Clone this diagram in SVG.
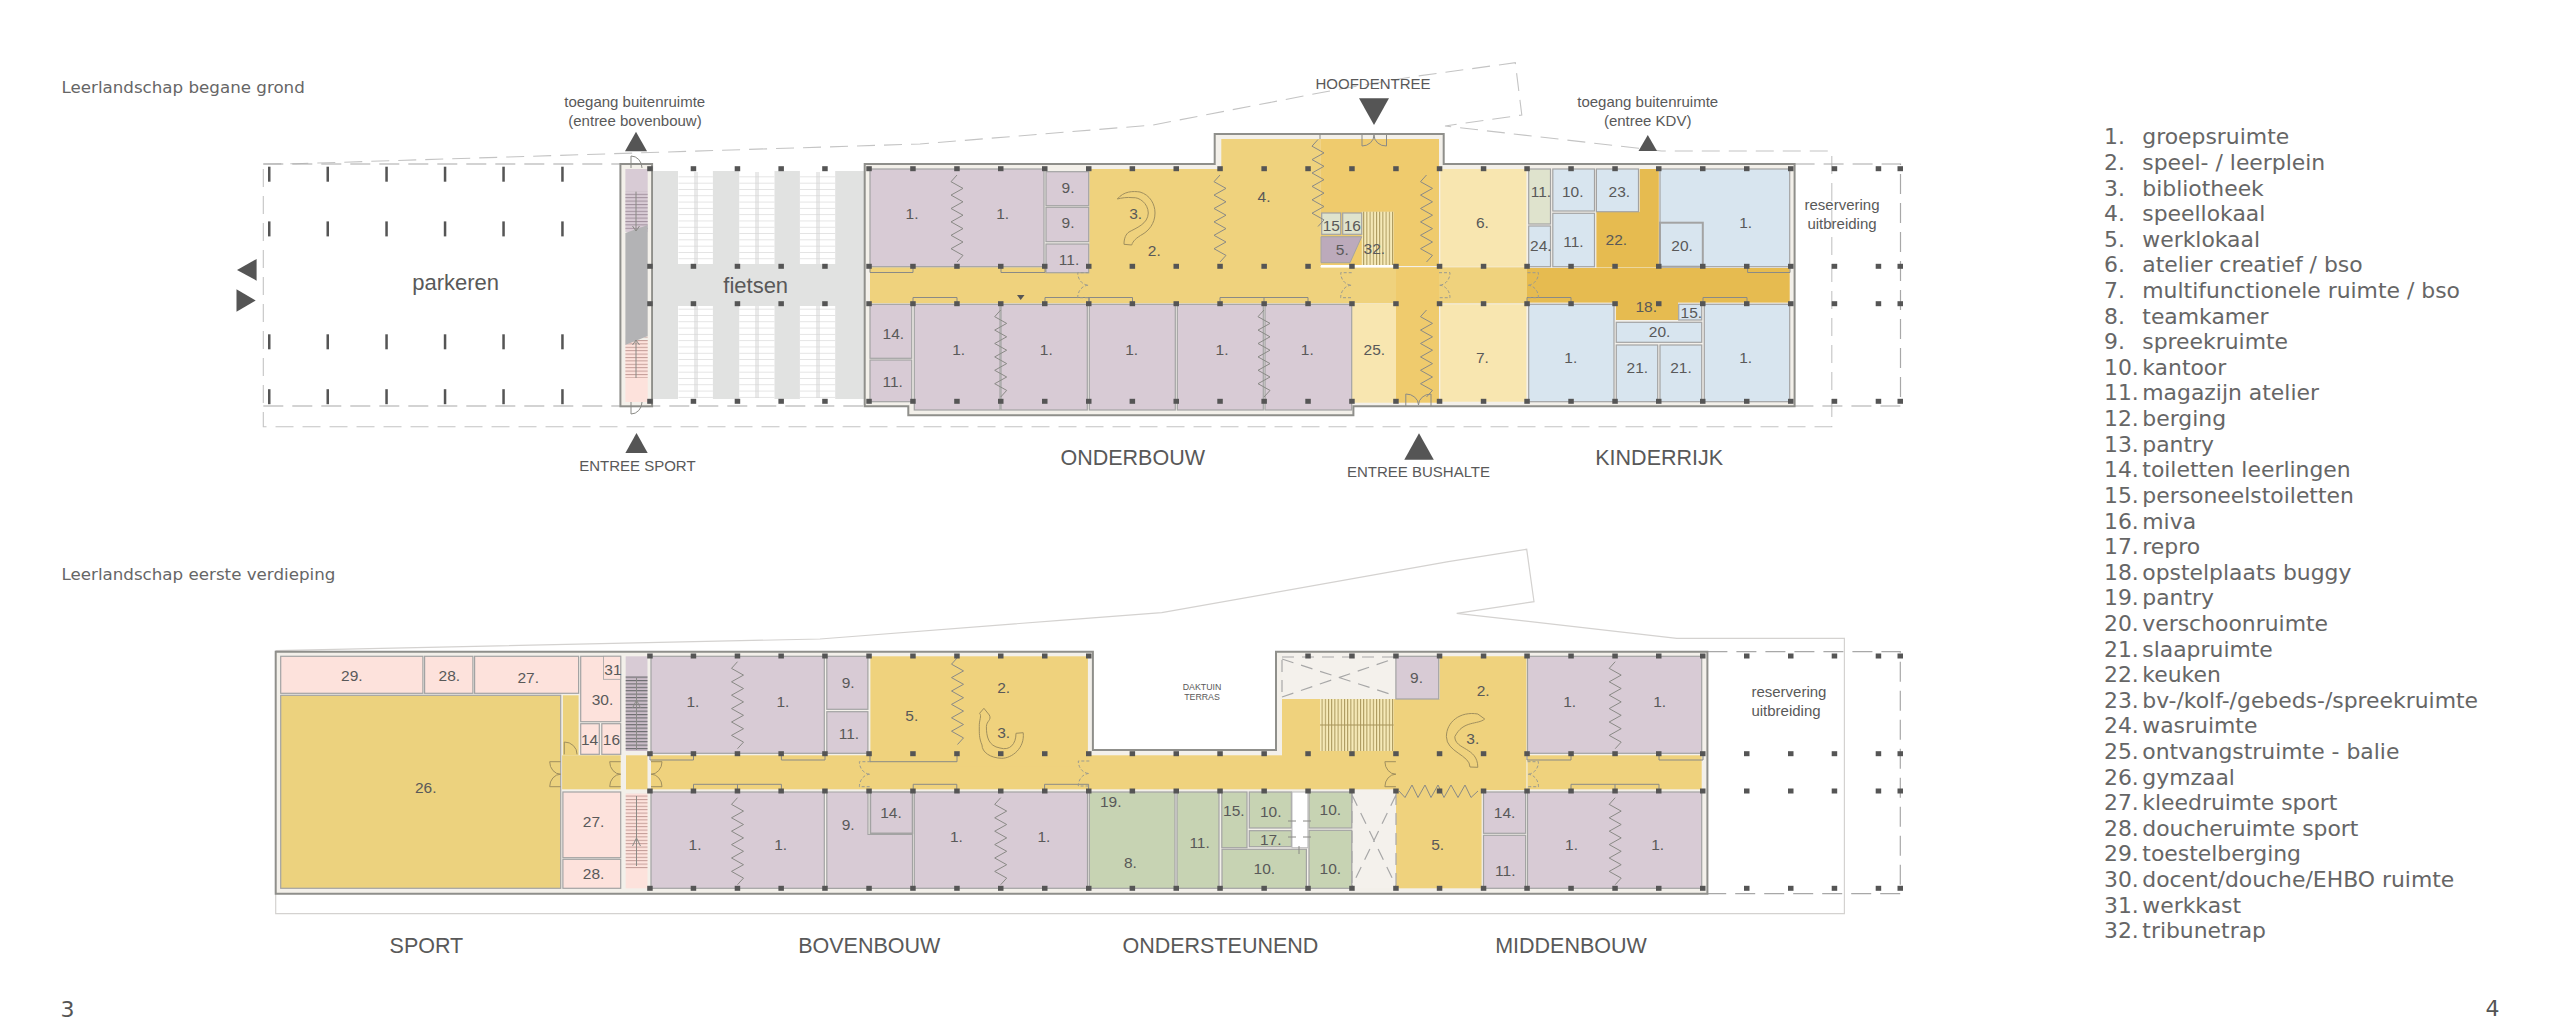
<svg xmlns="http://www.w3.org/2000/svg" xmlns:xlink="http://www.w3.org/1999/xlink" width="2560" height="1026" viewBox="0 0 2560 1026">
<style>
text{font-family:"Liberation Sans",Arial,sans-serif;fill:#595959}
.l{font-size:15.5px;text-anchor:middle}
.s{font-size:15px;text-anchor:middle}
.z{font-size:21.5px;text-anchor:middle}
.t{font-size:15px;text-anchor:middle}
.d{font-family:"DejaVu Sans",Verdana,sans-serif;font-size:16.7px;fill:#666}
.k{font-family:"DejaVu Sans",Verdana,sans-serif;font-size:21.9px;fill:#666}
.pu{fill:#d8cbd5}.ye{fill:#efd27d}.yd{fill:#e6bb50}.ym{fill:#efcb6d}.pa{fill:#f8e6b0}.bl{fill:#d8e5ef}.gp{fill:#dfe3cd}.gr{fill:#c7d3b3}.pk{fill:#fde2dc}.sp{fill:#ecd27e}.vo{fill:#f4f1ec}.fg{fill:#e1e2e1}
.r{stroke:#a3a3a3;stroke-width:1.2}
.w{fill:#f3f0ea;stroke:#8f8f8b;stroke-width:2}
.n{fill:none;stroke:#8a8a86;stroke-width:1}
.dn{fill:none;stroke:#9a9a90;stroke-width:1;stroke-dasharray:3 2}
.dash{fill:none;stroke:#c4c4c4;stroke-width:1.1;stroke-dasharray:18 9}
.dk{fill:none;stroke:#a8a8a8;stroke-width:1.2;stroke-dasharray:20 9}
.sol{fill:none;stroke:#d4d2d0;stroke-width:1.2}
.sp3{fill:none;stroke:#a08f5e;stroke-width:1}
.ar{fill:#555}
.c{fill:#555}
</style>
<defs>
<pattern id="hs" width="4" height="3.4" patternUnits="userSpaceOnUse"><rect width="4" height="1" fill="#a08f9c"/></pattern>
<pattern id="hp" width="4" height="3.4" patternUnits="userSpaceOnUse"><rect width="4" height="1" fill="#c29c97"/></pattern>
<pattern id="hd" width="4" height="3.4" patternUnits="userSpaceOnUse"><rect width="4" height="1.1" fill="#6a6a6d"/></pattern>
<pattern id="vs" width="3.2" height="4" patternUnits="userSpaceOnUse"><rect width="1" height="4" fill="#a8955a"/></pattern>
<pattern id="bk" width="34" height="6.3" patternUnits="userSpaceOnUse"><rect y="0" width="34" height="0.9" fill="#e2e2e2"/></pattern>
<path id="zz" d="M0 0L-6 6.7L6 13.4L-6 20.1L6 26.8L-6 33.5L6 40.2L-6 46.9L6 53.6L-6 60.3L6 67L-6 73.7L6 80.4L0 87" class="n"/>
<path id="dl" d="M0 0H-11A11 12.5 0 0 0 0 12.5A11 12.5 0 0 0 -11 25H0"/>
<g id="cr">
<rect x="647.2" y="-2.5" width="5.5" height="5"/><rect x="690.7" y="-2.5" width="5.5" height="5"/><rect x="734.7" y="-2.5" width="5.5" height="5"/><rect x="778.4" y="-2.5" width="5.5" height="5"/><rect x="822.2" y="-2.5" width="5.5" height="5"/><rect x="866.3" y="-2.5" width="5.5" height="5"/><rect x="910.2" y="-2.5" width="5.5" height="5"/><rect x="954.2" y="-2.5" width="5.5" height="5"/><rect x="998" y="-2.5" width="5.5" height="5"/><rect x="1042" y="-2.5" width="5.5" height="5"/><rect x="1086" y="-2.5" width="5.5" height="5"/><rect x="1129.6" y="-2.5" width="5.5" height="5"/><rect x="1173.5" y="-2.5" width="5.5" height="5"/><rect x="1217.3" y="-2.5" width="5.5" height="5"/><rect x="1261.4" y="-2.5" width="5.5" height="5"/><rect x="1305.3" y="-2.5" width="5.5" height="5"/><rect x="1349.2" y="-2.5" width="5.5" height="5"/><rect x="1393.2" y="-2.5" width="5.5" height="5"/><rect x="1436.8" y="-2.5" width="5.5" height="5"/><rect x="1480.8" y="-2.5" width="5.5" height="5"/><rect x="1524.3" y="-2.5" width="5.5" height="5"/><rect x="1568.3" y="-2.5" width="5.5" height="5"/><rect x="1612.3" y="-2.5" width="5.5" height="5"/><rect x="1656" y="-2.5" width="5.5" height="5"/><rect x="1700" y="-2.5" width="5.5" height="5"/><rect x="1744" y="-2.5" width="5.5" height="5"/><rect x="1788" y="-2.5" width="5.5" height="5"/><rect x="1831.7" y="-2.5" width="5.5" height="5"/><rect x="1875.7" y="-2.5" width="5.5" height="5"/><rect x="1897.5" y="-2.5" width="5.5" height="5"/>
</g>
<g id="pc"><rect x="268" width="2.5" height="15"/><rect x="326.5" width="2.5" height="15"/><rect x="385.3" width="2.5" height="15"/><rect x="443.8" width="2.5" height="15"/><rect x="502.3" width="2.5" height="15"/><rect x="561.2" width="2.5" height="15"/></g>
</defs>
<rect width="2560" height="1026" fill="#fff"/>

<g id="begane-grond">
<text class="d" x="61.5" y="92.5">Leerlandschap begane grond</text>
<g id="site-bg">
<path class="dash" d="M263.3 164L296 163.7L920 144L1153 125L1340 89L1412.7 76.7L1515.3 62.7L1521.8 115L1445 126L1638.5 148.3L1661.5 151H1831.8V426.7H263.3V164"/>
<path class="dk" d="M263.3 164H620M263.3 406H865M1794.6 164H1900.5V406H1353"/>
</g>
<g id="parkeren"><use xlink:href="#pc" href="#pc" y="166.7" class="c"/><use xlink:href="#pc" href="#pc" y="221.4" class="c"/><use xlink:href="#pc" href="#pc" y="334.3" class="c"/><use xlink:href="#pc" href="#pc" y="389.2" class="c"/>
<text x="455.7" y="290" style="font-size:22px;text-anchor:middle">parkeren</text>
<polygon class="ar" points="256.6,259 256.6,280.7 237,270"/><polygon class="ar" points="236.5,289.3 236.5,311.7 255.7,300.5"/></g>
<g id="stair-bg">
<rect class="w" x="620.4" y="164" width="31.7" height="242.3"/>
<rect class="pu" x="625.4" y="169" width="22.3" height="63"/><rect fill="url(#hs)" x="625.4" y="191.7" width="22.3" height="38"/>
<rect class="pk" x="625.4" y="340" width="22.3" height="62"/><polygon fill="url(#hp)" points="625.4,345 647.7,336 647.7,378 625.4,378"/>
<polygon fill="#b3b3b5" points="625.4,233 647.7,225 647.7,336 625.4,345"/>
<path class="n" d="M636 191.7V231M632.5 226L636 231L639.5 226M636 378V340M632.5 345L636 340L639.5 345M631 168V156A11 12 0 0 1 642 168M631 402V414A11 12 0 0 0 642 402"/>
</g>
<g id="fietsen">
<rect class="fg" x="653" y="171" width="25" height="228"/><rect class="fg" x="712.9" y="171" width="26.3" height="228"/><rect class="fg" x="774.5" y="171" width="25.4" height="228"/><rect class="fg" x="835.2" y="171" width="29.8" height="228"/><rect class="fg" x="653" y="264" width="212" height="42"/>
<g fill="url(#bk)"><rect x="678.5" y="172" width="34.4" height="92"/><rect x="739.2" y="172" width="35.3" height="92"/><rect x="799.9" y="172" width="35.3" height="92"/><rect x="678.5" y="306" width="34.4" height="92"/><rect x="739.2" y="306" width="35.3" height="92"/><rect x="799.9" y="306" width="35.3" height="92"/></g>
<path d="M695 172V264M697 172V264M756 172V264M758 172V264M817 172V264M819 172V264M695 306V398M697 306V398M756 306V398M758 306V398M817 306V398M819 306V398" stroke="#d4d4d4" fill="none"/>
<text x="755.7" y="292.7" style="font-size:22px;text-anchor:middle">fietsen</text>
</g>
<path id="wand-bg" class="w" d="M864.7 164H1214.7V134H1443.7V164H1794.6V406.3H1353.4V415.3H908.3V406.3H864.7Z"/>
<g id="plein-bg">
<polygon class="ye" points="1089.3,169 1221.3,169 1221.3,139 1320.3,139 1320.3,267.3 1353,267.3 1353,303.3 870,303.3 870,267.3 1089.3,267.3"/>
<rect class="ym" x="1320.3" y="139" width="118.7" height="127"/>
<rect class="ye" x="1353" y="267.3" width="174" height="36"/>
<rect class="ym" x="1396" y="267.3" width="43" height="135.4"/>
<rect class="yd" x="1527" y="268" width="262.7" height="34.6"/>
<rect class="pa" x="1352" y="303.7" width="44" height="99"/>
<polygon class="yd" points="1596.4,211.7 1639.7,211.7 1639.7,169 1658.8,169 1658.8,267.5 1596.4,267.5"/>
<rect class="yd" x="1615.9" y="302" width="62.1" height="18"/>
<rect fill="#fff" x="1321" y="265" width="75" height="2.5"/>
<rect fill="#f6eab8" x="1361.7" y="211.7" width="31.9" height="53.3"/><rect fill="url(#vs)" x="1361.7" y="211.7" width="31.9" height="53.3"/>
</g>
<g id="ruimten-bg">
<rect class="pu r" x="870" y="169" width="174" height="97.7"/>
<rect class="pu r" x="1046" y="171.7" width="42.7" height="34"/><rect class="pu r" x="1046" y="207.3" width="42.7" height="34.4"/><rect class="pu r" x="1046" y="244" width="42.7" height="28.7"/>
<rect class="pu r" x="870" y="304.3" width="41.7" height="54"/><rect class="pu r" x="870" y="360" width="41.7" height="41.7"/>
<rect class="pu r" x="914.3" y="304.3" width="85.7" height="105.7"/><rect class="pu r" x="1001" y="304.3" width="86.3" height="105.7"/><rect class="pu r" x="1089.3" y="304.3" width="86" height="105.7"/><rect class="pu r" x="1177.3" y="304.3" width="86" height="105.7"/><rect class="pu r" x="1265" y="304.3" width="86.7" height="105.7"/>
<rect class="gp r" x="1321.7" y="213" width="19" height="21.3"/><rect class="gp r" x="1342.7" y="213" width="19" height="21.3"/>
<polygon fill="#bcaabb" stroke="#a3a3a3" points="1321,236.7 1361.7,236.7 1350,262.7 1321,262.7"/>
<rect class="pa" x="1440.3" y="169" width="86.1" height="97.7"/><rect class="pa" x="1440.3" y="304.3" width="86.1" height="97.4"/>
<rect class="gp r" x="1528.7" y="169" width="21.8" height="55"/>
<rect class="bl r" x="1528.7" y="226" width="21.8" height="40.7"/><rect class="bl r" x="1552.8" y="169" width="41.7" height="42"/><rect class="bl r" x="1552.8" y="213.3" width="41.7" height="53.4"/><rect class="bl r" x="1596.4" y="169" width="42.1" height="42.7"/>
<rect class="bl r" x="1660" y="169" width="129.7" height="97.7"/><rect class="bl" x="1660" y="222.7" width="42.8" height="44" stroke="#a3a3a3" stroke-width="2"/>
<rect class="bl r" x="1528.7" y="304.3" width="85.3" height="97.4"/><rect class="bl r" x="1704.3" y="304.3" width="85.4" height="97.4"/>
<rect class="bl r" x="1678.7" y="304.3" width="23" height="15.7"/><rect class="bl r" x="1616.3" y="322.3" width="85.4" height="20"/><rect class="bl r" x="1616.3" y="345" width="41.4" height="56.7"/><rect class="bl r" x="1660" y="345" width="41.7" height="56.7"/>
</g>
<g id="details-bg">
<path class="sp3" d="M1117.3 199C1124 191 1133 191 1140 192C1150 195 1155 204 1155 213C1155 224 1148 231 1143 234C1136 238 1133 241 1131.7 245L1124 244.3C1124 238 1126 234 1129 232C1136 228 1148 224 1148.3 213C1148 203 1139 197 1133 197.7C1127 197 1121 198 1117.3 199Z"/>
<use xlink:href="#zz" href="#zz" x="957" y="175"/><use xlink:href="#zz" href="#zz" x="1220" y="175"/><use xlink:href="#zz" href="#zz" x="1318" y="139.5"/><use xlink:href="#zz" href="#zz" x="1000.7" y="310"/><use xlink:href="#zz" href="#zz" x="1264" y="310"/><use xlink:href="#zz" href="#zz" x="1426.5" y="175"/><use xlink:href="#zz" href="#zz" x="1426.5" y="310"/>
<path class="n" d="M1320 134V139M870 266.5V272.5H913V266.5M1001 266.5V272.5H1045V266.5M1747.6 266.5V272.5H1790V266.5M913 303.5V297.5H957V303.5M1045 303.5V297.5H1089V303.5M1089 303.5V297.5H1132.5V303.5M1220 303.5V297.5H1308V303.5M1264 297.5V303.5M1527 303.5V297.5H1571V303.5M1703 303.5V297.5H1747V303.5"/>
<polygon class="ar" points="1017,295 1024.5,295 1020.7,300"/>
<g class="dn"><use xlink:href="#dl" href="#dl" transform="translate(1088.7 272.7)"/><use xlink:href="#dl" href="#dl" transform="translate(1351.7 272.7)"/><use xlink:href="#dl" href="#dl" transform="translate(1439 272.7) scale(-1 1)"/><use xlink:href="#dl" href="#dl" transform="translate(1527.5 272.7) scale(-1 1)"/></g>
<path class="n" d="M1362 135V146A12 11 0 0 0 1374 135A12 11 0 0 0 1386.5 146V135M1405.8 406V394A12.5 11 0 0 1 1418.5 405A12.5 11 0 0 1 1431 394V406"/>
</g>
<g id="kolommen-bg" class="c"><use xlink:href="#cr" href="#cr" y="168.7"/><use xlink:href="#cr" href="#cr" y="266.3"/><use xlink:href="#cr" href="#cr" y="303.7"/><use xlink:href="#cr" href="#cr" y="401.3"/></g>
<g id="labels-bg">
<text class="l" x="912" y="219">1.</text><text class="l" x="1002.7" y="219">1.</text><text class="l" x="1068" y="192.7">9.</text><text class="l" x="1068" y="228.3">9.</text><text class="l" x="1069" y="265">11.</text><text class="l" x="1135.7" y="219">3.</text><text class="l" x="1154.3" y="255.7">2.</text><text class="l" x="1264" y="201.7">4.</text><text class="l" x="1331.3" y="230.7">15</text><text class="l" x="1352.3" y="230.7">16</text><text class="l" x="1342.3" y="255">5.</text><text class="l" x="1374.4" y="254">32.</text>
<text class="l" x="893.3" y="338.7">14.</text><text class="l" x="892.7" y="387">11.</text><text class="l" x="958.7" y="355">1.</text><text class="l" x="1046.3" y="355">1.</text><text class="l" x="1131.7" y="355">1.</text><text class="l" x="1222" y="355">1.</text><text class="l" x="1307.3" y="355">1.</text><text class="l" x="1374.4" y="355">25.</text>
<text class="l" x="1482.4" y="227.7">6.</text><text class="l" x="1482.4" y="363">7.</text><text class="l" x="1540.9" y="197.3">11.</text><text class="l" x="1572.7" y="197.3">10.</text><text class="l" x="1619.4" y="197.3">23.</text><text class="l" x="1540.9" y="251">24.</text><text class="l" x="1573.4" y="246.7">11.</text><text class="l" x="1616.3" y="245.3">22.</text><text class="l" x="1682.1" y="251">20.</text><text class="l" x="1745.7" y="228.3">1.</text><text class="l" x="1646.2" y="311.7">18.</text><text class="l" x="1691.3" y="318.3">15.</text><text class="l" x="1659.6" y="337">20.</text><text class="l" x="1570.8" y="363">1.</text><text class="l" x="1637.4" y="373.3">21.</text><text class="l" x="1681" y="373.3">21.</text><text class="l" x="1745.7" y="363">1.</text>
</g>
<g id="entrees-bg">
<text class="s" x="634.7" y="107">toegang buitenruimte</text><text class="s" x="635" y="126">(entree bovenbouw)</text><polygon class="ar" points="625,151.3 647,151.3 636,131.7"/>
<text class="s" x="637.4" y="470.7">ENTREE SPORT</text><polygon class="ar" points="625.4,453 647.7,453 636.5,433"/>
<text class="t" x="1373" y="89.3">HOOFDENTREE</text><polygon class="ar" points="1359,98.3 1389,98.3 1374,125"/>
<text class="s" x="1647.7" y="107.3">toegang buitenruimte</text><text class="s" x="1647.7" y="126">(entree KDV)</text><polygon class="ar" points="1638.5,151 1657,151 1647.8,135"/>
<text class="t" x="1418.5" y="477.3">ENTREE BUSHALTE</text><polygon class="ar" points="1404.3,459.7 1433.8,459.7 1419,433.3"/>
<text class="t" x="1842" y="210">reservering</text><text class="t" x="1842" y="229">uitbreiding</text>
<text class="z" x="1132.7" y="465">ONDERBOUW</text><text class="z" x="1659.2" y="465">KINDERRIJK</text>
</g>
</g>

<g id="eerste-verdieping">
<text class="d" x="61.5" y="580">Leerlandschap eerste verdieping</text>
<g id="site-ev">
<path class="sol" d="M275.7 650.7L820 639L1060 620.3L1161.7 612.7L1448.3 561.7L1526.7 549.3L1534 601.7L1456.7 613.3L1676.8 638.3H1844.4V913.7H275.7V650.7"/>
<path class="dk" d="M1707.4 651.7H1900.3V893.7H1707.4"/>
</g>
<path id="wand-ev" class="w" d="M275.7 651.7H1092.9V750H1276V651.7H1707.4V893.7H275.7Z"/>
<g id="plein-ev">
<rect class="sp r" x="280.7" y="695.3" width="280" height="193"/>
<rect class="sp" x="562.9" y="695.3" width="15.7" height="60"/><rect class="sp" x="562.1" y="755.3" width="58.6" height="34"/>
<rect class="ye" x="626" y="755.3" width="21.5" height="34"/>
<rect class="ye" x="651" y="755.3" width="750" height="34"/>
<rect class="ye" x="870.4" y="656.3" width="217.5" height="110"/>
<rect class="ye" x="1282" y="699" width="114" height="57"/>
<rect fill="#f6eab8" x="1320" y="699" width="73.6" height="52"/><rect fill="url(#vs)" x="1320" y="699" width="73.6" height="52"/>
<path d="M1320 725H1393.6" stroke="#a8955a"/>
<rect class="vo" x="1282" y="653" width="114" height="46"/>
<rect class="vo" x="1352" y="790" width="44" height="98.3"/>
<polygon class="ye" points="1396,699 1439.5,699 1439.5,656.3 1526.4,656.3 1526.4,790 1396,790"/>
<rect class="ye" x="1396" y="789" width="85.6" height="99.3"/>
<rect class="ye" x="1527.5" y="755.3" width="174.2" height="34"/>
</g>
<g id="ruimten-ev">
<rect class="pk r" x="280.7" y="656.3" width="142.2" height="37"/><rect class="pk r" x="424.6" y="656.3" width="48.3" height="37"/><rect class="pk r" x="474.6" y="656.3" width="104" height="37"/>
<rect class="pk r" x="580.7" y="656.3" width="40" height="65.4"/><rect class="pk" x="603.6" y="656.3" width="17.1" height="23" stroke="#a3a3a3" stroke-width="0.8"/>
<rect class="pk r" x="580.7" y="723.7" width="18.6" height="30.6"/><rect class="pk r" x="601.8" y="723.7" width="18.9" height="30.6"/>
<rect class="pk r" x="562.9" y="792" width="57.8" height="65.7"/><rect class="pk r" x="562.9" y="859.3" width="57.8" height="29"/>
<rect class="pu" x="625.7" y="656.3" width="21.8" height="20"/><rect fill="#cabcc8" x="625.7" y="676" width="21.8" height="75"/><rect fill="url(#hd)" x="625.7" y="676" width="21.8" height="75"/>
<rect class="pk" x="625.7" y="793.7" width="21.8" height="94.6"/><rect fill="url(#hp)" x="625.7" y="793.7" width="21.8" height="76"/>
<path class="n" d="M636.5 678V750M632.5 708L636.5 700L640.5 708M636.5 796V866M632.5 846L636.5 838L640.5 846"/>
<rect class="pu r" x="651" y="656.3" width="173.3" height="97"/><rect class="pu r" x="651" y="792" width="173.3" height="96.3"/>
<rect class="pu r" x="826.8" y="656.3" width="41.1" height="53"/><rect class="pu r" x="826.8" y="711.7" width="41.1" height="41.6"/>
<polygon class="pu r" points="826.8,792 868,792 868,834.5 912.5,834.5 912.5,888.3 826.8,888.3"/>
<rect class="pu" x="870.4" y="792" width="42.1" height="41.3" stroke="#a3a3a3" stroke-width="1.6"/>
<rect class="pu r" x="914.3" y="792" width="173.2" height="96.3"/>
<rect class="gr r" x="1089.3" y="792" width="85.7" height="96.3"/><rect class="gr r" x="1177" y="792" width="42" height="96.3"/><rect class="gr r" x="1221.8" y="792" width="25.2" height="55.7"/><rect class="gr r" x="1249.3" y="792" width="42.1" height="36"/><rect class="gr r" x="1249.3" y="830.7" width="42.1" height="16"/><rect class="gr r" x="1222" y="849.3" width="84.4" height="39"/><rect class="gr r" x="1309" y="792" width="42.8" height="36"/><rect class="gr r" x="1309" y="830.3" width="42.8" height="58"/>
<rect x="1292" y="792" width="15.9" height="55.7" fill="#fff" stroke="#bbb"/>
<path class="n" d="M1288 821H1296M1303 821H1311M1288 837H1296M1303 837H1311M1299 846V854"/>
<rect class="pu r" x="1395.9" y="656.3" width="42.8" height="42.7"/>
<rect class="pu r" x="1483.5" y="792" width="42.1" height="41.3"/><rect class="pu r" x="1483.5" y="835.3" width="42.1" height="53"/>
<rect class="pu r" x="1527.5" y="656.3" width="174.2" height="97"/><rect class="pu r" x="1527.5" y="792" width="174.2" height="96.3"/>
<path class="dk" style="stroke-dasharray:12 8" d="M1282 657H1396M1282 660V699M1282 659L1396 696M1282 697L1396 658M1352 791V888M1396 793V888M1352 795L1396 886M1396 795L1352 886"/>
</g>
<g id="details-ev">
<path class="sp3" d="M983.9 708.3L989.3 715C992 720 986.4 721 986.4 726.7C986.4 736 988 746 1000 748C1010 751 1016 744 1016 733.3L1023.2 732.7C1025 748 1012 758.3 1001.8 758.3C990 758 982 752 982 745C979 738 979.3 733 979.3 726.7C979 720 982 716 979.6 713.3Z"/>
<path class="sp3" d="M1477.8 714L1484.7 719C1478 725 1463 720 1454.8 736.7C1455 750 1477.8 747 1477.8 767.3L1470 767C1470 755 1446.4 752 1446.4 736.7C1446.4 722 1460 711 1477.8 714Z"/>
<use xlink:href="#zz" href="#zz" x="737.5" y="661.7"/><use xlink:href="#zz" href="#zz" x="737.5" y="797.7"/><use xlink:href="#zz" href="#zz" x="957.5" y="657.5"/><use xlink:href="#zz" href="#zz" x="1000.7" y="797.7"/><use xlink:href="#zz" href="#zz" x="1615.2" y="661.7"/><use xlink:href="#zz" href="#zz" x="1615.2" y="797.7"/>
<path class="n" d="M1399 791L1405 797.5L1412 785L1418 797.5L1425 785L1431 797.5L1438 785L1444 797.5L1451 785L1458 797.5L1465 785L1471 797.5L1478 791"/>
<path class="n" d="M650 754V760H693.5V754M781.4 754V760H825V754M870 754V761.7H957V754M1527 754V760H1571V754M1659 754V760H1703V754M693.5 791V784.3H781.4V791M737.5 784.3V791M913.2 791V784.3H956.8V791M1044.6 791V784.3H1088.6V791M1571 791V784.3H1659V791M1615 784.3V791"/>
<g class="sp3"><use xlink:href="#dl" href="#dl" transform="translate(560.7 761.7)"/><use xlink:href="#dl" href="#dl" transform="translate(620.7 761.7)"/><use xlink:href="#dl" href="#dl" transform="translate(651 761.7) scale(-1 1)"/><use xlink:href="#dl" href="#dl" transform="translate(1395.9 761.7)"/></g>
<path class="sp3" d="M564.3 754.3V742A12.7 12 0 0 1 577 754.3"/>
<g class="dn"><use xlink:href="#dl" href="#dl" transform="translate(870.4 761.7)"/><use xlink:href="#dl" href="#dl" transform="translate(1089.3 761)"/><use xlink:href="#dl" href="#dl" transform="translate(1527.5 761.7) scale(-1 1)"/></g>
</g>
<g id="kolommen-ev" class="c">
<use xlink:href="#cr" href="#cr" y="753.7"/><use xlink:href="#cr" href="#cr" y="791"/><use xlink:href="#cr" href="#cr" y="888.3"/>
<rect x="647.2" y="653.5" width="5.5" height="5"/><rect x="690.7" y="653.5" width="5.5" height="5"/><rect x="734.7" y="653.5" width="5.5" height="5"/><rect x="778.4" y="653.5" width="5.5" height="5"/><rect x="822.2" y="653.5" width="5.5" height="5"/><rect x="866.3" y="653.5" width="5.5" height="5"/><rect x="910.2" y="653.5" width="5.5" height="5"/><rect x="954.2" y="653.5" width="5.5" height="5"/><rect x="998" y="653.5" width="5.5" height="5"/><rect x="1042" y="653.5" width="5.5" height="5"/><rect x="1086" y="653.5" width="5.5" height="5"/><rect x="1305.3" y="653.5" width="5.5" height="5"/><rect x="1349.2" y="653.5" width="5.5" height="5"/><rect x="1393.2" y="653.5" width="5.5" height="5"/><rect x="1436.8" y="653.5" width="5.5" height="5"/><rect x="1480.8" y="653.5" width="5.5" height="5"/><rect x="1524.3" y="653.5" width="5.5" height="5"/><rect x="1568.3" y="653.5" width="5.5" height="5"/><rect x="1612.3" y="653.5" width="5.5" height="5"/><rect x="1656" y="653.5" width="5.5" height="5"/><rect x="1700" y="653.5" width="5.5" height="5"/><rect x="1744" y="653.5" width="5.5" height="5"/><rect x="1788" y="653.5" width="5.5" height="5"/><rect x="1831.7" y="653.5" width="5.5" height="5"/><rect x="1875.7" y="653.5" width="5.5" height="5"/><rect x="1897.5" y="653.5" width="5.5" height="5"/>
</g>
<g id="labels-ev">
<text class="l" x="351.8" y="680.7">29.</text><text class="l" x="449.3" y="681.3">28.</text><text class="l" x="528.2" y="683.3">27.</text><text class="l" x="612.9" y="675">31</text><text class="l" x="602.5" y="705.3">30.</text><text class="l" x="589.6" y="744.7">14</text><text class="l" x="611.4" y="744.7">16</text><text class="l" x="425.7" y="793.3">26.</text><text class="l" x="593.6" y="827">27.</text><text class="l" x="593.6" y="879.3">28.</text>
<text class="l" x="692.9" y="706.7">1.</text><text class="l" x="782.9" y="706.7">1.</text><text class="l" x="695" y="850.3">1.</text><text class="l" x="780.7" y="850.3">1.</text>
<text class="l" x="848.2" y="688">9.</text><text class="l" x="848.9" y="739.3">11.</text><text class="l" x="911.8" y="721">5.</text><text class="l" x="1003.6" y="693.3">2.</text><text class="l" x="1003.6" y="738">3.</text><text class="l" x="891" y="818.3">14.</text><text class="l" x="848.2" y="830">9.</text><text class="l" x="956.4" y="842.3">1.</text><text class="l" x="1043.9" y="842.3">1.</text>
<text class="l" x="1110.7" y="806.7">19.</text><text class="l" x="1130.4" y="867.7">8.</text><text class="l" x="1199.6" y="848.3">11.</text><text class="l" x="1233.9" y="815.7">15.</text><text class="l" x="1270.7" y="816.7">10.</text><text class="l" x="1270.7" y="845">17.</text><text class="l" x="1264.3" y="874">10.</text><text class="l" x="1330.4" y="815">10.</text><text class="l" x="1330.4" y="874">10.</text>
<text x="1202" y="690" style="font-size:8.8px;text-anchor:middle">DAKTUIN</text><text x="1202" y="700.3" style="font-size:8.8px;text-anchor:middle">TERRAS</text>
<text class="l" x="1416.5" y="682.7">9.</text><text class="l" x="1483.1" y="696.3">2.</text><text class="l" x="1472.8" y="744">3.</text><text class="l" x="1569.6" y="707">1.</text><text class="l" x="1659.6" y="707">1.</text><text class="l" x="1504.6" y="818.3">14.</text><text class="l" x="1437.6" y="850.3">5.</text><text class="l" x="1505.3" y="876">11.</text><text class="l" x="1571.5" y="850.3">1.</text><text class="l" x="1657.6" y="850.3">1.</text>
<text x="1751.4" y="697" style="font-size:15px">reservering</text><text x="1751.4" y="716" style="font-size:15px">uitbreiding</text>
<text class="z" x="426.4" y="952.7">SPORT</text><text class="z" x="869.3" y="952.7">BOVENBOUW</text><text class="z" x="1220.4" y="952.7">ONDERSTEUNEND</text><text class="z" x="1571" y="952.7">MIDDENBOUW</text>
</g>
</g>

<g id="legenda">
<text class="k" x="2104" y="144.3">1.</text><text class="k" x="2142.3" y="144.3">groepsruimte</text>
<text class="k" x="2104" y="169.9">2.</text><text class="k" x="2142.3" y="169.9">speel- / leerplein</text>
<text class="k" x="2104" y="195.5">3.</text><text class="k" x="2142.3" y="195.5">bibliotheek</text>
<text class="k" x="2104" y="221.1">4.</text><text class="k" x="2142.3" y="221.1">speellokaal</text>
<text class="k" x="2104" y="246.7">5.</text><text class="k" x="2142.3" y="246.7">werklokaal</text>
<text class="k" x="2104" y="272.4">6.</text><text class="k" x="2142.3" y="272.4">atelier creatief / bso</text>
<text class="k" x="2104" y="298">7.</text><text class="k" x="2142.3" y="298">multifunctionele ruimte / bso</text>
<text class="k" x="2104" y="323.6">8.</text><text class="k" x="2142.3" y="323.6">teamkamer</text>
<text class="k" x="2104" y="349.2">9.</text><text class="k" x="2142.3" y="349.2">spreekruimte</text>
<text class="k" x="2104" y="374.8">10.</text><text class="k" x="2142.3" y="374.8">kantoor</text>
<text class="k" x="2104" y="400.4">11.</text><text class="k" x="2142.3" y="400.4">magazijn atelier</text>
<text class="k" x="2104" y="426">12.</text><text class="k" x="2142.3" y="426">berging</text>
<text class="k" x="2104" y="451.6">13.</text><text class="k" x="2142.3" y="451.6">pantry</text>
<text class="k" x="2104" y="477.2">14.</text><text class="k" x="2142.3" y="477.2">toiletten leerlingen</text>
<text class="k" x="2104" y="502.8">15.</text><text class="k" x="2142.3" y="502.8">personeelstoiletten</text>
<text class="k" x="2104" y="528.5">16.</text><text class="k" x="2142.3" y="528.5">miva</text>
<text class="k" x="2104" y="554.1">17.</text><text class="k" x="2142.3" y="554.1">repro</text>
<text class="k" x="2104" y="579.7">18.</text><text class="k" x="2142.3" y="579.7">opstelplaats buggy</text>
<text class="k" x="2104" y="605.3">19.</text><text class="k" x="2142.3" y="605.3">pantry</text>
<text class="k" x="2104" y="630.9">20.</text><text class="k" x="2142.3" y="630.9">verschoonruimte</text>
<text class="k" x="2104" y="656.5">21.</text><text class="k" x="2142.3" y="656.5">slaapruimte</text>
<text class="k" x="2104" y="682.1">22.</text><text class="k" x="2142.3" y="682.1">keuken</text>
<text class="k" x="2104" y="707.7">23.</text><text class="k" x="2142.3" y="707.7">bv-/kolf-/gebeds-/spreekruimte</text>
<text class="k" x="2104" y="733.3">24.</text><text class="k" x="2142.3" y="733.3">wasruimte</text>
<text class="k" x="2104" y="758.9">25.</text><text class="k" x="2142.3" y="758.9">ontvangstruimte - balie</text>
<text class="k" x="2104" y="784.6">26.</text><text class="k" x="2142.3" y="784.6">gymzaal</text>
<text class="k" x="2104" y="810.2">27.</text><text class="k" x="2142.3" y="810.2">kleedruimte sport</text>
<text class="k" x="2104" y="835.8">28.</text><text class="k" x="2142.3" y="835.8">doucheruimte sport</text>
<text class="k" x="2104" y="861.4">29.</text><text class="k" x="2142.3" y="861.4">toestelberging</text>
<text class="k" x="2104" y="887">30.</text><text class="k" x="2142.3" y="887">docent/douche/EHBO ruimte</text>
<text class="k" x="2104" y="912.6">31.</text><text class="k" x="2142.3" y="912.6">werkkast</text>
<text class="k" x="2104" y="938.2">32.</text><text class="k" x="2142.3" y="938.2">tribunetrap</text>
</g>
<text id="pagina-3" x="60.5" y="1016.5" style="font-family:'DejaVu Sans',sans-serif;font-size:22px;fill:#555">3</text>
<text id="pagina-4" x="2485.5" y="1015.5" style="font-family:'DejaVu Sans',sans-serif;font-size:22px;fill:#555">4</text>
</svg>
